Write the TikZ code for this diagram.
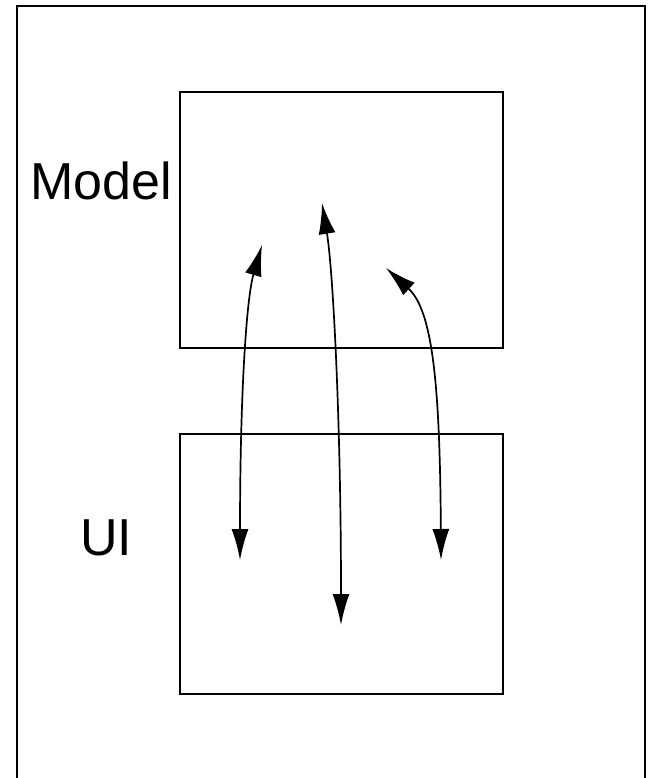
\documentclass[tikz,border=0pt]{standalone}
\usepackage{fontspec}
\setmainfont{Liberation Sans}
\usetikzlibrary{arrows.meta, positioning}

\tikzset{
    block/.style={draw, line width=1.8pt, minimum width=323pt, inner sep=0pt},
    lbl/.style={font=\fontsize{52}{56}\selectfont, inner sep=0pt},
    link/.style={line width=1.7pt, {Latex[length=31pt,width=17pt]}-{Latex[length=31pt,width=17pt]}}
}

\begin{document}
\begin{tikzpicture}[x=1pt, y=-1pt]

        \useasboundingbox (0,0) rectangle (651,778);
        \draw[line width=1.8pt] (17,778) -- (17,6) -- (645,6) -- (645,778);

        \node[block, minimum height=256pt] (model) at (341.5,220) {};
        \node[block, minimum height=260pt] (ui) at (341.5,564) {};
        \node[lbl, anchor=east] (modeltext) at (172,181) {Model};
        \node[lbl] (uitext) at (106,538) {UI};

        \coordinate (l1) at (240,560);
        \coordinate (l2) at (262,245);
        \coordinate (m1) at (341,625);
        \coordinate (m2) at (322,203);
        \coordinate (r1) at (441,560);
        \coordinate (r2) at (386,268);

        \draw[link] (l1) .. controls (240,400) and (246,300) .. (l2);
        \draw[link] (m1) .. controls (341,420) and (333,270) .. (m2);
        \draw[link] (r1) .. controls (440,380) and (432,310) .. (r2);

\end{tikzpicture}
\end{document}
